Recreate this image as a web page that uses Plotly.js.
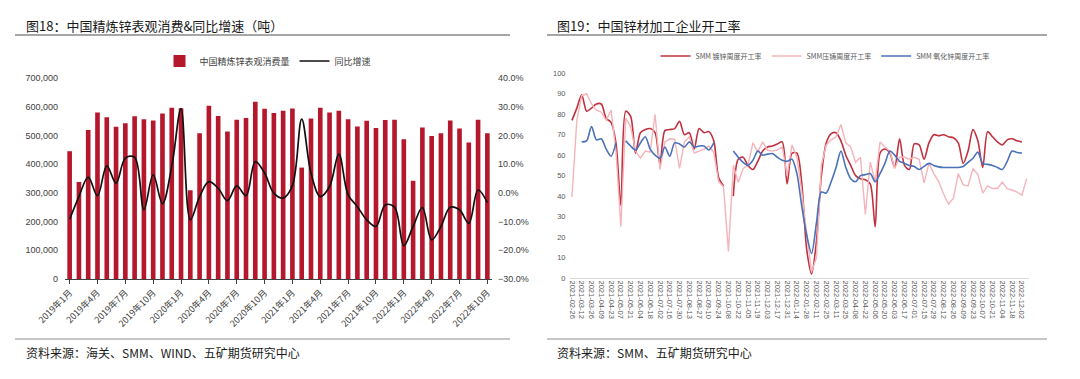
<!DOCTYPE html>
<html>
<head>
<meta charset="utf-8">
<script src="https://cdn.plot.ly/plotly-3.0.1.min.js"></script>
<style>
html,body{margin:0;padding:0;background:#fff;}
#chart{width:1080px;height:379px;}
</style>
</head>
<body>
<div id="chart"></div>
<script>
// ---- Figure 18: monthly apparent consumption & YoY ----
const months = ['2019年1月','2019年2月','2019年3月','2019年4月','2019年5月','2019年6月','2019年7月','2019年8月','2019年9月','2019年10月','2019年11月','2019年12月',
'2020年1月','2020年2月','2020年3月','2020年4月','2020年5月','2020年6月','2020年7月','2020年8月','2020年9月','2020年10月','2020年11月','2020年12月',
'2021年1月','2021年2月','2021年3月','2021年4月','2021年5月','2021年6月','2021年7月','2021年8月','2021年9月','2021年10月','2021年11月','2021年12月',
'2022年1月','2022年2月','2022年3月','2022年4月','2022年5月','2022年6月','2022年7月','2022年8月','2022年9月','2022年10月'];
const consumption = [445000,338000,519000,580000,563000,530000,542000,567000,556000,552000,576000,596000,
595000,309000,508000,603000,568000,514000,555000,561000,617000,593000,578000,586000,
594000,388000,559000,596000,580000,586000,556000,531000,551000,526000,554000,555000,
487000,342000,528000,498000,508000,552000,524000,475000,555000,508000];
const yoy = [-9.2,-1.3,5.5,-1.0,9.4,3.4,12.1,12.4,-5.9,6.3,-3.8,9.2,
29.3,-9.4,-1.3,3.9,1.6,-2.7,2.4,-1.0,10.9,6.9,-0.1,-1.8,
2.5,25.7,6.9,-1.3,2.2,13.5,-0.7,-4.8,-9.4,-11.7,-4.2,-5.0,
-18.4,-11.7,-5.1,-16.4,-11.7,-5.0,-5.9,-10.6,1.0,-3.4];
const monthTicks = ['2019年1月','2019年4月','2019年7月','2019年10月','2020年1月','2020年4月','2020年7月','2020年10月',
'2021年1月','2021年4月','2021年7月','2021年10月','2022年1月','2022年4月','2022年7月','2022年10月'];

// ---- Figure 19: weekly operating rates ----
const weeks = ['2021-02-26','2021-03-05','2021-03-12','2021-03-19','2021-03-26','2021-04-02','2021-04-09','2021-04-16','2021-04-23','2021-04-30',
'2021-05-07','2021-05-14','2021-05-21','2021-05-28','2021-06-04','2021-06-11','2021-06-18','2021-06-25','2021-07-02','2021-07-09',
'2021-07-16','2021-07-23','2021-07-30','2021-08-06','2021-08-13','2021-08-20','2021-08-27','2021-09-03','2021-09-10','2021-09-17',
'2021-09-24','2021-10-01','2021-10-08','2021-10-15','2021-10-22','2021-10-29','2021-11-05','2021-11-12','2021-11-19','2021-11-26',
'2021-12-03','2021-12-10','2021-12-17','2021-12-24','2021-12-31','2022-01-07','2022-01-14','2022-01-21','2022-01-28','2022-02-04',
'2022-02-11','2022-02-18','2022-02-25','2022-03-04','2022-03-11','2022-03-18','2022-03-25','2022-04-01','2022-04-08','2022-04-15',
'2022-04-22','2022-04-29','2022-05-06','2022-05-13','2022-05-20','2022-05-27','2022-06-03','2022-06-10','2022-06-17','2022-06-24',
'2022-07-01','2022-07-08','2022-07-15','2022-07-22','2022-07-29','2022-08-05','2022-08-12','2022-08-19','2022-08-26','2022-09-02',
'2022-09-09','2022-09-16','2022-09-23','2022-09-30','2022-10-07','2022-10-14','2022-10-21','2022-10-28','2022-11-04','2022-11-11',
'2022-11-18','2022-11-25','2022-12-02','2022-12-09'];
const weekTicks = ['2021-02-26','2021-03-12','2021-03-26','2021-04-09','2021-04-23','2021-05-07','2021-05-21','2021-06-04','2021-06-18','2021-07-02',
'2021-07-16','2021-07-30','2021-08-13','2021-08-27','2021-09-10','2021-09-24','2021-10-08','2021-10-22','2021-11-05','2021-11-19',
'2021-12-03','2021-12-17','2021-12-31','2022-01-14','2022-01-28','2022-02-11','2022-02-25','2022-03-11','2022-03-25','2022-04-08',
'2022-04-22','2022-05-06','2022-05-20','2022-06-03','2022-06-17','2022-07-01','2022-07-15','2022-07-29','2022-08-12','2022-08-26',
'2022-09-09','2022-09-23','2022-10-07','2022-10-21','2022-11-04','2022-11-18','2022-12-02'];
const galvanizing = [77,83,89.5,81.5,83,85,85,78,76,66,
35.5,81.5,79,61,71,72.5,73,71,55.5,72,
72.5,73,76.5,70,71,63,73,71,71.5,67,
49,45,null,40,58,59,55,53,57,62,
64,64.5,65.5,66.5,46,61,61,46,14,2,
18,50,66,70.5,71,67,60,55,50,48.5,
48,46,25,61,63,61,54,68,55,53,
65.5,65,58,66,70,69.5,70,69,68.5,66,
56,62,72.5,67,54,71.5,69,66.5,65,67.5,
68,67,66.5,null];
const dieCasting = [39.7,77,89,90,85,82,81,77,82,62,
25,78,74,62,58.5,62,61.5,80,53,66.5,
68,67.8,53.5,66.5,69,61,62,63,64.5,61.3,
47,44.5,13,55,46.7,53.5,55,66,61.6,66.5,
62.4,62,62.5,64,50,65,59,42,22,3,
10,55,65,67.5,69,75,66,64,56.5,59,
31,56.7,47,66.5,64,62,53.5,59,59,58,
59,58,46.5,56,51,47,41,36,39,51,
45.5,45,53.5,50.5,41.5,45,43.7,43.7,46.8,43.5,
43,42,40.5,48.6];
const zincOxide = [null,null,66.5,67,74,67.5,68,63,59.5,66,
null,67,64.5,62.5,66,69,63,60,58.5,64,
59.5,66,65.5,64,66.5,64,64.5,64.5,62.5,66,
null,null,null,62,59,56.5,55,57.5,62,60,
60.5,60.8,59,57.5,57,58,51,35,21,12,
27,42,41.5,47,54,62,54,48.5,47,50,
50.5,51,47,51,56,62,60,57,56,55,
54.5,53,54.5,56,55,54.3,54,54,54,54,
54.5,56.5,58.5,61.5,56,55.5,55,54,53,57,
62,61.3,61,null];

const cjk = '"Noto Sans CJK SC", "Noto Sans", sans-serif';
const num = '"Liberation Sans", Arial, sans-serif';

const traces = [
  {type:'bar', name:'中国精炼锌表观消费量', x:months, y:consumption, xaxis:'x', yaxis:'y',
   marker:{color:'#B5182D'}, legend:'legend'},
  {type:'scatter', mode:'lines', name:'同比增速', x:months, y:yoy, xaxis:'x', yaxis:'y2',
   line:{color:'#111111', width:1.7, shape:'spline', smoothing:1}, legend:'legend'},
  {type:'scatter', mode:'lines', name:'SMM 镀锌周度开工率', x:weeks, y:galvanizing, xaxis:'x3', yaxis:'y3',
   line:{color:'#C0303F', width:1.6, shape:'spline', smoothing:0.8}, connectgaps:false, legend:'legend2'},
  {type:'scatter', mode:'lines', name:'SMM压铸周度开工率', x:weeks, y:dieCasting, xaxis:'x3', yaxis:'y3',
   line:{color:'#F4B4BA', width:1.4}, connectgaps:false, legend:'legend2'},
  {type:'scatter', mode:'lines', name:'SMM 氧化锌周度开工率', x:weeks, y:zincOxide, xaxis:'x3', yaxis:'y3',
   line:{color:'#4A72B8', width:1.6, shape:'spline', smoothing:0.8}, connectgaps:false, legend:'legend2'}
];

const P = (px) => px/1080;
const Q = (py) => 1 - py/379;

const layout = {
  width:1080, height:379,
  margin:{l:0, r:0, t:0, b:0},
  paper_bgcolor:'#ffffff', plot_bgcolor:'rgba(0,0,0,0)',
  showlegend:true,
  bargap:0.5,
  font:{family:num, color:'#404040'},
  xaxis:{domain:[P(65), P(492)], anchor:'y', type:'category', range:[-0.5, 45.5],
    tickmode:'array', tickvals:monthTicks, ticktext:monthTicks, tickangle:-45,
    tickfont:{family:cjk, size:9, color:'#404040'},
    showline:true, linecolor:'#404040', linewidth:1, ticks:'outside', ticklen:4, tickcolor:'#404040',
    showgrid:false, zeroline:false, fixedrange:true},
  yaxis:{domain:[Q(279), Q(78)], anchor:'x', range:[0, 700000], dtick:100000, tickformat:',',
    tickfont:{family:num, size:9, color:'#404040'}, showgrid:false, zeroline:false, showline:false,
    ticks:'', ticklabelstandoff:6},
  yaxis2:{overlaying:'y', side:'right', anchor:'x', range:[-30, 40], dtick:10, tickformat:'.1f', ticksuffix:'%',
    tickfont:{family:num, size:9, color:'#404040'}, showgrid:false, zeroline:false, showline:false,
    ticks:'', ticklabelstandoff:5},
  xaxis3:{domain:[P(569.5), P(1029.2)], anchor:'y3', type:'category', range:[-0.5, 93.5],
    tickmode:'array', tickvals:weekTicks, ticktext:weekTicks, tickangle:90,
    tickfont:{family:num, size:7.5, color:'#595959'},
    showline:true, linecolor:'#d9d9d9', linewidth:1, ticks:'', showgrid:false, zeroline:false},
  yaxis3:{domain:[Q(278), Q(73.3)], anchor:'x3', range:[0, 100], dtick:10,
    tickfont:{family:num, size:7.5, color:'#595959'}, showgrid:false, zeroline:false, showline:false,
    ticks:'', ticklabelstandoff:3},
  legend:{orientation:'h', x:P(268), xanchor:'center', y:Q(61), yanchor:'middle',
    font:{family:cjk, size:9, color:'#404040'}, bgcolor:'rgba(0,0,0,0)', itemwidth:30},
  legend2:{orientation:'h', x:P(825), xanchor:'center', y:Q(56), yanchor:'middle',
    font:{family:cjk, size:7, color:'#595959'}, bgcolor:'rgba(0,0,0,0)', itemwidth:30},
  shapes:[
    {type:'line', xref:'paper', yref:'paper', x0:P(15), x1:P(510), y0:Q(35), y1:Q(35), line:{color:'#a6a6a6', width:2}},
    {type:'line', xref:'paper', yref:'paper', x0:P(547), x1:P(1047), y0:Q(35), y1:Q(35), line:{color:'#a6a6a6', width:2}},
    {type:'line', xref:'paper', yref:'paper', x0:P(15), x1:P(510), y0:Q(339), y1:Q(339), line:{color:'#8c8c8c', width:1}},
    {type:'line', xref:'paper', yref:'paper', x0:P(547), x1:P(1047), y0:Q(339), y1:Q(339), line:{color:'#8c8c8c', width:1}}
  ],
  annotations:[
    {text:'图18：中国精炼锌表观消费&同比增速（吨）', xref:'paper', yref:'paper', x:P(24), y:Q(25), xanchor:'left', yanchor:'middle',
     showarrow:false, font:{family:cjk, size:13, color:'#1a1a1a'}},
    {text:'图19：中国锌材加工企业开工率', xref:'paper', yref:'paper', x:P(555), y:Q(25), xanchor:'left', yanchor:'middle',
     showarrow:false, font:{family:cjk, size:13, color:'#1a1a1a'}},
    {text:'资料来源：海关、SMM、WIND、五矿期货研究中心', xref:'paper', yref:'paper', x:P(24), y:Q(352), xanchor:'left', yanchor:'middle',
     showarrow:false, font:{family:cjk, size:12, color:'#1a1a1a'}},
    {text:'资料来源：SMM、五矿期货研究中心', xref:'paper', yref:'paper', x:P(555), y:Q(352), xanchor:'left', yanchor:'middle',
     showarrow:false, font:{family:cjk, size:12, color:'#1a1a1a'}}
  ]
};

Plotly.newPlot('chart', traces, layout, {displayModeBar:false, staticPlot:true});
</script>
</body>
</html>
